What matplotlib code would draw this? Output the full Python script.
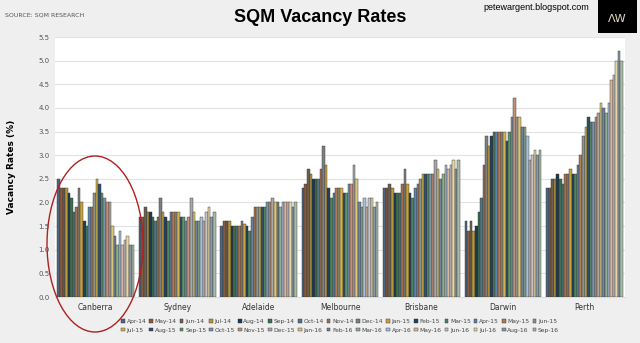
import numpy as np
import matplotlib
matplotlib.use("Agg")
import matplotlib.pyplot as plt
from matplotlib.patches import Ellipse, Rectangle

cities = ['Canberra', 'Sydney', 'Adelaide', 'Melbourne', 'Brisbane', 'Darwin', 'Perth']
months = ['Apr-14', 'May-14', 'Jun-14', 'Jul-14', 'Aug-14', 'Sep-14', 'Oct-14', 'Nov-14',
          'Dec-14', 'Jan-15', 'Feb-15', 'Mar-15', 'Apr-15', 'May-15', 'Jun-15',
          'Jul-15', 'Aug-15', 'Sep-15', 'Oct-15', 'Nov-15', 'Dec-15', 'Jan-16', 'Feb-16',
          'Mar-16', 'Apr-16', 'May-16', 'Jun-16', 'Jul-16', 'Aug-16', 'Sep-16']

canberra = [2.5, 2.3, 2.3, 2.3, 2.2, 2.1, 1.8, 1.9, 2.3, 2.0, 1.6, 1.5, 1.9, 1.9, 2.2,
            2.5, 2.4, 2.2, 2.1, 2.0, 2.0, 1.5, 1.3, 1.1, 1.4, 1.1, 1.2, 1.3, 1.1, 1.1]
sydney = [1.7, 1.7, 1.9, 1.8, 1.8, 1.7, 1.6, 1.7, 2.1, 1.8, 1.7, 1.6, 1.8, 1.8, 1.8,
          1.8, 1.7, 1.7, 1.6, 1.7, 2.1, 1.8, 1.6, 1.6, 1.7, 1.6, 1.8, 1.9, 1.7, 1.8]
adelaide = [1.5, 1.6, 1.6, 1.6, 1.5, 1.5, 1.5, 1.5, 1.6, 1.55, 1.5, 1.4, 1.7, 1.9, 1.9,
            1.9, 1.9, 1.9, 2.0, 2.0, 2.1, 2.0, 2.0, 1.9, 2.0, 2.0, 2.0, 2.0, 1.9, 2.0]
melbourne = [2.3, 2.4, 2.7, 2.6, 2.5, 2.5, 2.5, 2.7, 3.2, 2.8, 2.3, 2.1, 2.2, 2.3, 2.3,
             2.3, 2.2, 2.2, 2.4, 2.4, 2.8, 2.5, 2.0, 1.9, 2.1, 1.9, 2.1, 2.1, 1.9, 2.0]
brisbane = [2.3, 2.3, 2.4, 2.3, 2.2, 2.2, 2.2, 2.4, 2.7, 2.4, 2.2, 2.1, 2.3, 2.4, 2.5,
            2.6, 2.6, 2.6, 2.6, 2.6, 2.9, 2.7, 2.5, 2.6, 2.8, 2.7, 2.8, 2.9, 2.7, 2.9]
darwin = [1.6, 1.4, 1.6, 1.4, 1.5, 1.8, 2.1, 2.8, 3.4, 3.2, 3.4, 3.5, 3.5, 3.5, 3.5,
          3.5, 3.3, 3.5, 3.8, 4.2, 3.8, 3.8, 3.6, 3.6, 3.4, 2.9, 3.0, 3.1, 3.0, 3.1]
perth = [2.3, 2.3, 2.5, 2.5, 2.6, 2.5, 2.4, 2.6, 2.6, 2.7, 2.6, 2.6, 2.8, 3.0, 3.4,
         3.6, 3.8, 3.7, 3.7, 3.8, 3.9, 4.1, 4.0, 3.9, 4.1, 4.6, 4.7, 5.0, 5.2, 5.0]

data = np.array([canberra, sydney, adelaide, melbourne, brisbane, darwin, perth])

# excel-ish theme colours, getting lighter through the months
colors = ['#4d6580', '#8a5a3c', '#6b6150', '#b5963a', '#1f3a4c', '#3c7050',
          '#4f7683', '#a3704c', '#7f7f7f', '#c9a23c', '#243f58', '#4b8462',
          '#5f82a8', '#b07a52', '#8d9388', '#d4b24a', '#2f4f6a', '#5e9470',
          '#7a95a8', '#c29078', '#a8a8a8', '#dcc47a', '#6e8499', '#8fae94',
          '#a9bfd8', '#d8b4a4', '#c4c4c4', '#e6d6a8', '#8898a8', '#a8bca8']

BG = '#efefef'

fig = plt.figure(figsize=(6.4, 3.43), dpi=100, facecolor=BG)
ax = fig.add_axes([0.086, 0.134, 0.891, 0.758])
ax.set_facecolor('white')

n = len(months)
group_w = 0.94
bw = group_w / n
x = np.arange(len(cities))
for i in range(n):
    ax.bar(x - group_w / 2 + bw * (i + 0.5), data[:, i], width=bw, color=colors[i],
           edgecolor='#333333', linewidth=0.3, label=months[i], zorder=3)

ax.set_xlim(-0.5, len(cities) - 0.5)
ax.set_ylim(0, 5.5)
ax.set_yticks(np.arange(0, 5.51, 0.5))
ax.set_yticklabels(['%.1f' % v for v in np.arange(0, 5.51, 0.5)], fontsize=5, color='#555555')
ax.set_xticks(x)
ax.set_xticklabels(cities, fontsize=5.5, color='#333333')
ax.tick_params(length=0, pad=4)
ax.grid(axis='y', color='#e2e2e2', linewidth=0.8, zorder=0)
for s in ax.spines.values():
    s.set_visible(False)
ax.spines['bottom'].set_visible(True)
ax.spines['bottom'].set_color('#dddddd')

ax.set_ylabel('Vacancy Rates (%)', fontsize=6.5, fontweight='bold', labelpad=16)

# legend reads across rows: reorder because matplotlib fills by column
handles, labels = ax.get_legend_handles_labels()
order = [j for k in range(15) for j in (k, k + 15)]
leg = ax.legend([handles[j] for j in order], [labels[j] for j in order],
                loc='upper center', bbox_to_anchor=(0.5, -0.075), ncol=15, fontsize=4.3,
                frameon=False, handlelength=0.6, handleheight=0.6, handletextpad=0.3,
                columnspacing=0.5, labelspacing=0.6, borderaxespad=0)
for t in leg.get_texts():
    t.set_color('#444444')

fig.text(0.5, 0.95, 'SQM Vacancy Rates', ha='center', va='center', fontsize=13,
         fontweight='bold', family=['Liberation Sans Narrow', 'Liberation Sans', 'DejaVu Sans'])
fig.text(0.008, 0.955, 'SOURCE: SQM RESEARCH', ha='left', va='center', fontsize=4.5,
         color='#555555')
fig.text(0.838, 0.977, 'petewargent.blogspot.com', ha='center', va='center', fontsize=6.5,
         family=['Liberation Sans Narrow', 'Liberation Sans', 'DejaVu Sans'])

# logo box
fig.patches.append(Rectangle((0.935, 0.905), 0.06, 0.095, transform=fig.transFigure,
                             facecolor='black', edgecolor='none', zorder=5))
fig.text(0.965, 0.945, 'ΛW', ha='center', va='center', fontsize=8, color='#e8dcc0', zorder=6)

# red circle around Canberra
fig.patches.append(Ellipse((95 / 640, 1 - 244 / 343), 96 / 640, 176 / 343,
                           transform=fig.transFigure, facecolor='none',
                           edgecolor='#b02020', linewidth=1.0, zorder=10))

fig.savefig('out.png', dpi=100, facecolor=BG)
